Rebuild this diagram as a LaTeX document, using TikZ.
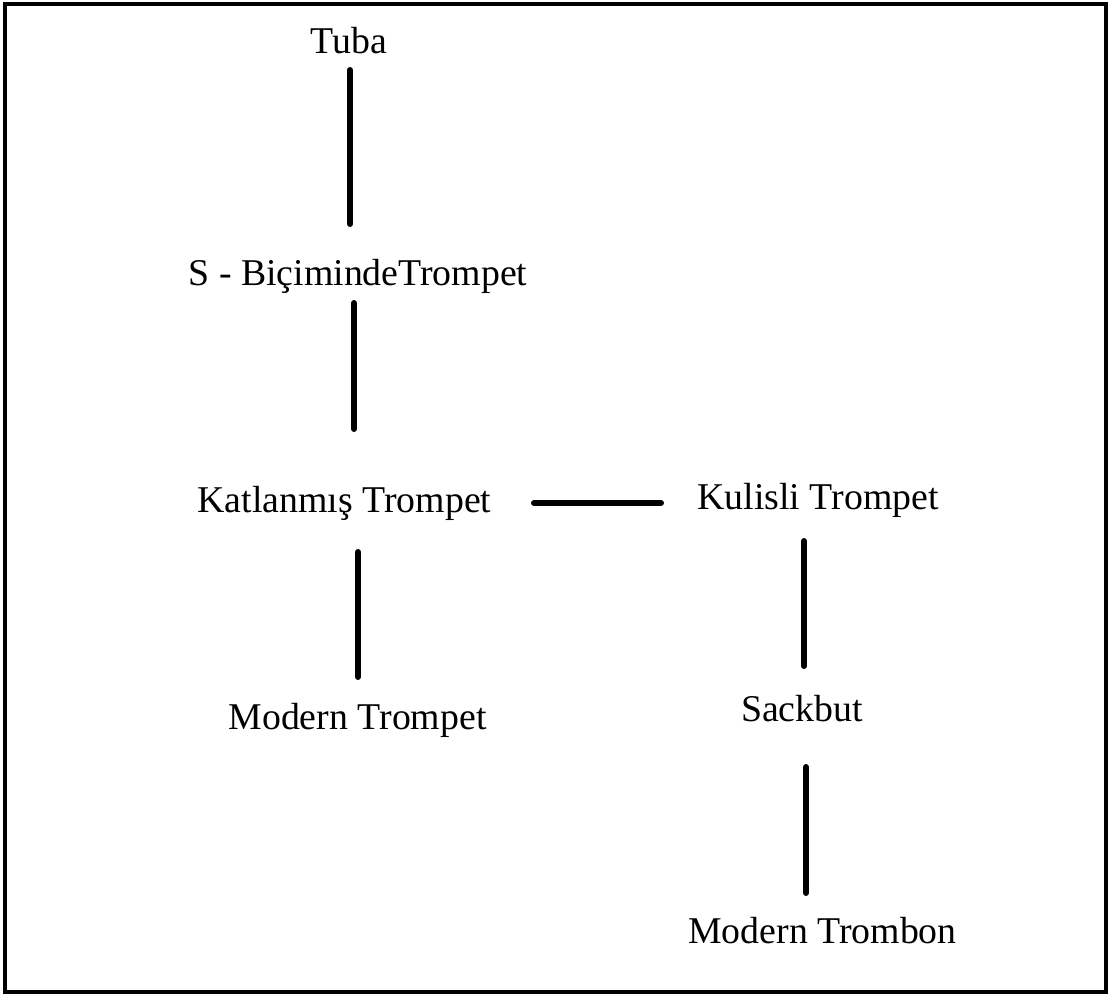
\documentclass[tikz,border=0pt]{standalone}
\usepackage{fontspec}
\setmainfont{Liberation Serif}
\usepackage{tikz}
\usetikzlibrary{calc}
\tikzset{
	instrument/.style={inner sep=0pt, anchor=base, font=\fontsize{18.9}{22}\selectfont},
	link/.style={line width=3pt, line cap=round, black},
	frame/.style={line width=2pt, black}
}

\begin{document}
\begin{tikzpicture}[x=0.5pt, y=-0.5pt]
		% Sinir
		\useasboundingbox (0,0) rectangle (1115,996);
		\draw[frame] (5,3.5) rectangle (1105.5,991.5);
		
		% Calgilar
		\node[instrument] (tuba) at (349,53) {Tuba};
		\node[instrument] (sbic) at (358,285) {S - BiçimindeTrompet};
		\node[instrument] (katl) at (344.5,512) {Katlanmış Trompet};
		\node[instrument] (kul) at (818,509) {Kulisli Trompet};
		\node[instrument] (modtp) at (357.5,729) {Modern Trompet};
		\node[instrument] (sack) at (802,721) {Sackbut};
		\node[instrument] (modtb) at (822.5,943) {Modern Trombon};
		
		% Baglantilar
		\draw[link] ($(tuba.base)+(1,17)$) -- ($(sbic.base)+(-8,-61)$);
		\draw[link] ($(sbic.base)+(-4,18)$) -- ($(katl.base)+(9.5,-83)$);
		\draw[link] ($(katl.base)+(13.5,40)$) -- ($(modtp.base)+(0.5,-52)$);
		\draw[link] ($(katl.base)+(189.5,-9)$) -- ($(kul.base)+(-157,-6)$);
		\draw[link] ($(kul.base)+(-14,32)$) -- ($(sack.base)+(2,-55)$);
		\draw[link] ($(sack.base)+(4,46)$) -- ($(modtb.base)+(-16.5,-50)$);
		
	\end{tikzpicture}
\end{document}
